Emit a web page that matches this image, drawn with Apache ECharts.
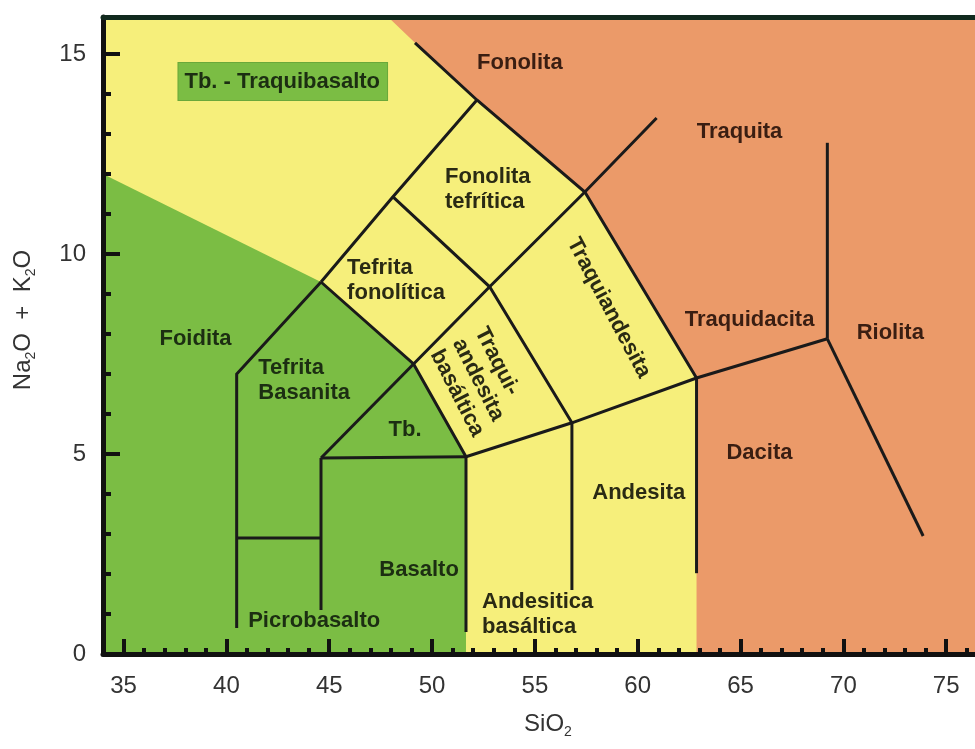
<!DOCTYPE html>
<html><head><meta charset="utf-8">
<script src="https://cdn.jsdelivr.net/npm/echarts@6/dist/echarts.min.js"></script>
<style>html,body{margin:0;padding:0;background:#fff}#c{width:975px;height:749px}</style>
</head><body><div id="c"></div>
<script>
// ---- axis ticks ----
const xTickValues = [35, 40, 45, 50, 55, 60, 65, 70, 75];
const yTickValues = [0, 5, 10, 15];
const xMinorValues = [34,35,36,37,38,39,40,41,42,43,44,45,46,47,48,49,50,51,52,53,54,55,56,57,58,59,60,61,62,63,64,65,66,67,68,69,70,71,72,73,74,75,76];
const yMinorValues = [0,1,2,3,4,5,6,7,8,9,10,11,12,13,14,15];
const xRange = [34, 76.4];
const yRange = [0, 15.925];

// ---- coloured fields (SiO2, Na2O+K2O) ----
const greenField = [[34,0],[34,12.0],[44.6,9.3],[49.1,7.25],[51.65,4.93],[51.65,0]];
const orangeField = [[47.86,15.925],[49.17,15.28],[52.18,13.85],[57.43,11.55],[62.86,6.9],[62.86,0],[76.4,0],[76.4,15.925]];

// ---- field boundaries ----
const boundaries = [
  [[40.5,0.65],[40.5,7.0],[44.6,9.3]],
  [[40.5,2.9],[44.6,2.9]],
  [[44.6,1.1],[44.6,4.9]],
  [[44.6,4.9],[49.1,7.25]],
  [[44.6,4.9],[51.65,4.93]],
  [[51.65,0.55],[51.65,4.93]],
  [[44.6,9.3],[49.1,7.25],[51.65,4.93]],
  [[51.65,4.93],[56.8,5.78],[62.86,6.9],[69.22,7.88]],
  [[56.8,1.6],[56.8,5.78]],
  [[62.86,2.02],[62.86,6.9]],
  [[69.22,7.88],[69.22,12.78]],
  [[69.22,7.88],[73.88,2.95]],
  [[49.1,7.25],[52.8,9.18],[57.43,11.55],[60.92,13.4]],
  [[44.6,9.3],[48.1,11.43],[52.18,13.85]],
  [[48.1,11.43],[52.8,9.18],[56.8,5.78]],
  [[49.17,15.28],[52.18,13.85],[57.43,11.55],[62.86,6.9]]
];

// ---- field names ----
const labelNames = ['Fonolita','Traquita','Fonolita\ntefrítica','Tefrita\nfonolítica','Foidita','Tefrita\nBasanita','Tb.','Traqui-\nandesita\nbasáltica','Traquiandesita','Traquidacita','Riolita','Dacita','Andesita','Basalto','Picrobasalto','Andesitica\nbasáltica','Tb. - Traquibasalto'];
const labelX = [54.27, 64.95, 50.63, 45.87, 38.5, 41.55, 48.69, 51.26, 58.59, 65.44, 72.28, 65.92, 60.05, 49.37, 44.27, 52.43, 37.67];
const labelY = [14.78, 13.05, 11.61, 9.34, 7.88, 6.83, 5.6, 7.85, 8.65, 8.35, 8.03, 5.03, 4.03, 2.1, 0.83, 0.99, 14.31];

// styles (kept apart from data)
const YEL = '#F6EF7B', GRN = '#7BBD44', ORG = '#EB9A69';
const FONT = "'Liberation Sans', Arial, sans-serif";
const labelAlign = ['center','center','left','left','center','left','center','left','center','center','center','center','center','center','center','left','left'];
const labelRot = [0,0,0,0,0,0,0,-63,-62,0,0,0,0,0,0,0,0];
const labelTone = ['o','o','y','y','g','g','g','y','y','o','o','o','y','g','g','y','g'];
const toneColor = {o:'#3a1e12', g:'#1c2e12', y:'#2a2a14'};

const fields = [greenField, orangeField];
const fieldColors = [GRN, ORG];

const chart = echarts.init(document.getElementById('c'), null, {renderer:'canvas'});

const axisTextStyle = {fontSize: 24, color: '#333', fontFamily: FONT};

chart.setOption({
  animation: false,
  backgroundColor: '#fff',
  grid: {left: 103, top: 17, right: 0, bottom: 95, show: true, backgroundColor: YEL, borderWidth: 0},
  xAxis: [
    {type:'value', min:xRange[0], max:xRange[1], position:'bottom', z:10,
     axisLine:{show:true, onZero:false, lineStyle:{color:'#111', width:5}},
     axisTick:{show:true, inside:true, length:15, customValues:xTickValues, lineStyle:{color:'#111', width:4}},
     axisLabel:Object.assign({customValues:xTickValues, margin:20}, axisTextStyle),
     splitLine:{show:false}},
    {type:'value', min:xRange[0], max:xRange[1], position:'bottom', z:10,
     axisLine:{show:false},
     axisTick:{show:true, inside:true, length:6, customValues:xMinorValues, lineStyle:{color:'#111', width:4}},
     axisLabel:{show:false}, splitLine:{show:false}},
    {type:'value', min:xRange[0], max:xRange[1], position:'top', z:10,
     axisLine:{show:true, onZero:false, lineStyle:{color:'#112a1e', width:5}},
     axisTick:{show:false}, axisLabel:{show:false}, splitLine:{show:false}}
  ],
  yAxis: [
    {type:'value', min:yRange[0], max:yRange[1], position:'left', z:10,
     axisLine:{show:true, onZero:false, lineStyle:{color:'#111', width:5}},
     axisTick:{show:true, inside:true, length:17, customValues:yTickValues, lineStyle:{color:'#111', width:4}},
     axisLabel:Object.assign({customValues:yTickValues, margin:17}, axisTextStyle),
     splitLine:{show:false}},
    {type:'value', min:yRange[0], max:yRange[1], position:'left', z:10,
     axisLine:{show:false},
     axisTick:{show:true, inside:true, length:8, customValues:yMinorValues, lineStyle:{color:'#111', width:4}},
     axisLabel:{show:false}, splitLine:{show:false}}
  ],
  graphic: [
    {type:'text', x:548, y:724, z:20,
     style:{text:'{a|SiO}{s|2}', align:'center', verticalAlign:'middle',
       rich:{a:{fontSize:24, fontFamily:FONT, fill:'#333', lineHeight:30},
             s:{fontSize:14, fontFamily:FONT, fill:'#333', lineHeight:12, verticalAlign:'bottom'}}}},
    {type:'text', x:23, y:320, rotation:Math.PI/2, z:20,
     style:{text:'{a|Na}{s|2}{a|O  +  K}{s|2}{a|O}', align:'center', verticalAlign:'middle',
       rich:{a:{fontSize:24, fontFamily:FONT, fill:'#333', lineHeight:30},
             s:{fontSize:14, fontFamily:FONT, fill:'#333', lineHeight:12, verticalAlign:'bottom'}}}}
  ],
  series: [
    {type:'custom', xAxisIndex:0, yAxisIndex:0, z:1, silent:true, clip:true,
     data: fields.map(f => f[0]),
     renderItem: (params, api) => ({
       type:'polygon',
       shape:{points: fields[params.dataIndex].map(p => api.coord(p))},
       style:{fill: fieldColors[params.dataIndex]}
     })},
    {type:'custom', xAxisIndex:0, yAxisIndex:0, z:2, silent:true, clip:true,
     data: boundaries.map(b => b[0]),
     renderItem: (params, api) => ({
       type:'polyline',
       shape:{points: boundaries[params.dataIndex].map(p => api.coord(p))},
       style:{stroke:'#1a1a1a', lineWidth:3, fill:null, lineJoin:'miter', lineCap:'butt'}
     })},
    {type:'custom', xAxisIndex:0, yAxisIndex:0, z:3, silent:true, clip:false,
     data: labelNames.map((n, i) => [labelX[i], labelY[i]]),
     renderItem: (params, api) => {
       const i = params.dataIndex;
       const pt = api.coord([labelX[i], labelY[i]]);
       const isBox = labelNames[i].indexOf(' - ') > 0;
       const style = {
         text: labelNames[i], fill: toneColor[labelTone[i]],
         fontSize: 22, fontWeight: 'bold', fontFamily: FONT,
         align: labelAlign[i], verticalAlign: 'middle', lineHeight: 25
       };
       if (isBox) { style.backgroundColor = GRN; style.padding = [6, 7, 6, 6]; style.borderColor = '#6aa83a'; style.borderWidth = 1; }
       return {type:'text', x: pt[0], y: pt[1], rotation: labelRot[i] * Math.PI / 180, style};
     }}
  ]
});
</script></body></html>
